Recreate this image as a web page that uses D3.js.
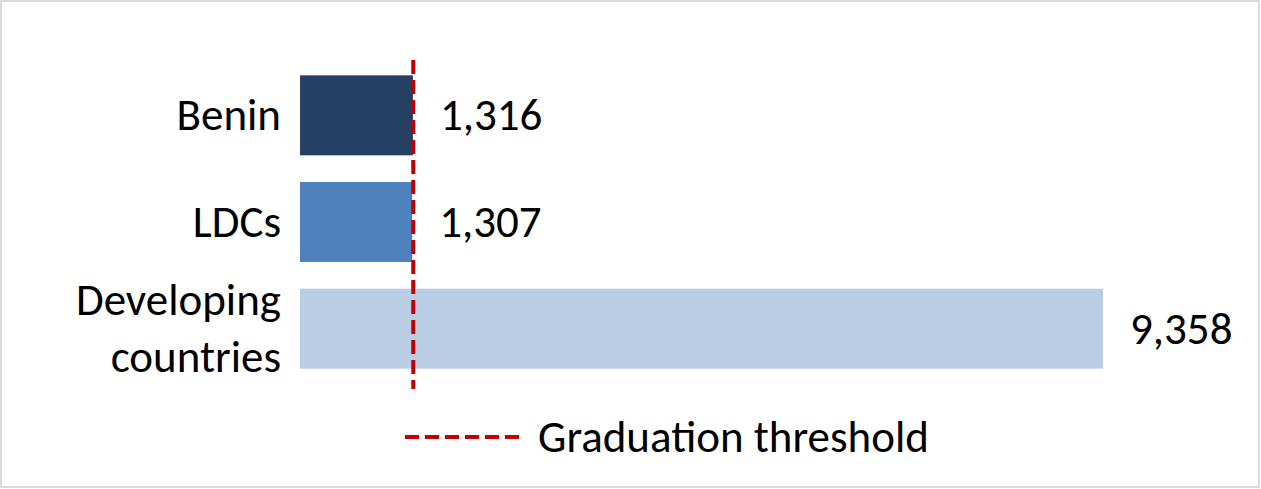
<!DOCTYPE html><html><head><meta charset="utf-8"><script src="https://cdn.jsdelivr.net/npm/d3@7"></script>
<style>body{margin:0;background:#fff}text{font-family:Carlito,"Noto Sans",sans-serif}</style></head><body><svg id="c" width="1261" height="489"></svg><script>
const categories=["Benin","LDCs","Developing countries"];
const values=[1316,1307,9358];
const colors=["#264064","#4f81bd","#b9cde5"];
const threshold=1320;
const svg=d3.select("#c");
svg.append("rect").attr("x",1).attr("y",1).attr("width",1258).attr("height",486).attr("fill","#fff").attr("stroke","#d0d0d0").attr("stroke-width",1.5);
const x=d3.scaleLinear().domain([0,9358]).range([300,1103]);
const y=d3.scaleBand().domain(categories).range([62,382]).paddingInner(0.25).paddingOuter(0.125);
const fs=45;
svg.selectAll(".bar").data(values).join("rect").attr("x",x(0)).attr("y",(d,i)=>y(categories[i])).attr("width",d=>x(d)-x(0)).attr("height",y.bandwidth()).attr("fill",(d,i)=>colors[i]);
svg.selectAll(".val").data(values).join("text").attr("x",d=>x(d)+27).attr("y",(d,i)=>y(categories[i])+y.bandwidth()/2+15).attr("font-size",fs).text(d=>d3.format(",")(d));
categories.forEach((c,i)=>{const lines=c==="Developing countries"?["Developing","countries"]:[c];
 const cy=y(c)+y.bandwidth()/2;
 lines.forEach((l,j)=>svg.append("text").attr("x",281).attr("text-anchor","end").attr("font-size",fs).attr("y",cy+15+(j-(lines.length-1)/2)*57).text(l));});
svg.append("line").attr("x1",x(threshold)).attr("x2",x(threshold)).attr("y1",60).attr("y2",389).attr("stroke","#c00000").attr("stroke-width",4).attr("stroke-dasharray","14,6");
svg.append("line").attr("x1",405).attr("x2",525).attr("y1",437).attr("y2",437).attr("stroke","#c00000").attr("stroke-width",4).attr("stroke-dasharray","14,6");
svg.append("text").attr("x",538).attr("y",452).attr("font-size",fs).text("Graduation threshold");
</script></body></html>
